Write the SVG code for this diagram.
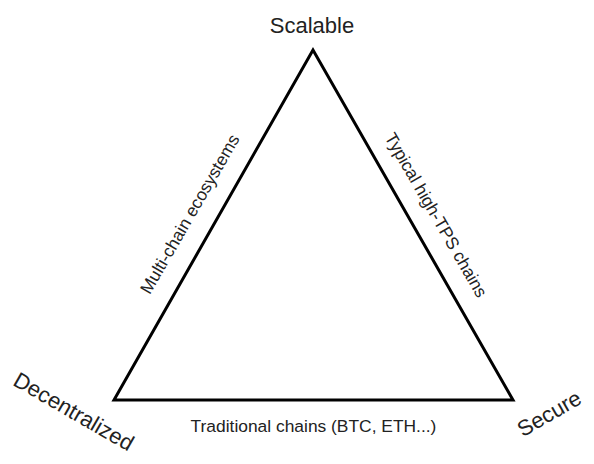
<svg xmlns="http://www.w3.org/2000/svg" width="594" height="464" viewBox="0 0 594 464">
  <style>
    .vertex { font-family: "Liberation Sans", Arial, sans-serif; font-size: 22px; fill: #222; text-anchor: middle; }
    .edge-label { font-family: "Liberation Sans", Arial, sans-serif; font-size: 17.4px; fill: #222; text-anchor: middle; }
    .side { stroke: #000; stroke-width: 3; fill: none; stroke-linejoin: miter; }
  </style>
  <rect width="594" height="464" fill="#fff"/>
  <g id="connectors">
    <polygon class="side" points="313,50 114,400 513,400"/>
  </g>
  <g id="node-scalable">
    <text class="vertex" x="312" y="33">Scalable</text>
  </g>
  <g id="node-decentralized">
    <text class="vertex" transform="translate(70,418) rotate(30)">Decentralized</text>
  </g>
  <g id="node-secure">
    <text class="vertex" transform="translate(553,420) rotate(-30)">Secure</text>
  </g>
  <g id="label-left">
    <text class="edge-label" transform="translate(195,217) rotate(-60)">Multi-chain ecosystems</text>
  </g>
  <g id="label-right">
    <text class="edge-label" transform="translate(431,218) rotate(60)">Typical high-TPS chains</text>
  </g>
  <g id="label-bottom">
    <text class="edge-label" x="313.5" y="432">Traditional chains (BTC, ETH...)</text>
  </g>
</svg>
